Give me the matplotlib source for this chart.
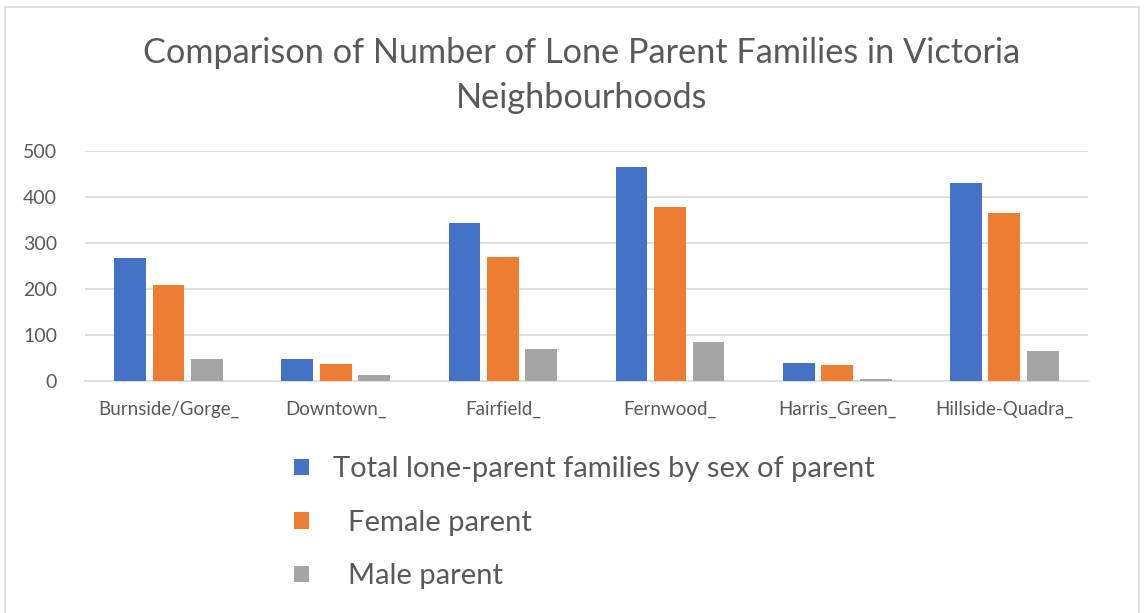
import matplotlib
matplotlib.use("Agg")
import matplotlib.pyplot as plt
import numpy as np
from matplotlib.patches import Rectangle

categories = ["Burnside/Gorge_", "Downtown_", "Fairfield_", "Fernwood_", "Harris_Green_", "Hillside-Quadra_"]
total = [267, 48, 345, 467, 40, 432]
female = [210, 36, 271, 380, 35, 367]
male = [48, 14, 70, 84, 5, 65]
series_names = ["Total lone-parent families by sex of parent", "  Female parent", "  Male parent"]
yticks = [0, 100, 200, 300, 400, 500]

colors = ["#4472C4", "#ED7D31", "#A5A5A5"]
txt = "#595959"
font = ["Lato", "DejaVu Sans"]

fig = plt.figure(figsize=(11.44, 6.13), dpi=100)
fig.patch.set_facecolor("white")
fig.add_artist(Rectangle((0.004, -0.01), 0.992, 0.998, transform=fig.transFigure,
                         fill=False, edgecolor="#D9D9D9", linewidth=1.2))

ax = fig.add_axes([0.0743, 0.3785, 0.8767, 0.3744])
x = np.arange(len(categories))
w = 0.19
step = 0.23
for i, (vals, c, name) in enumerate(zip([total, female, male], colors, series_names)):
    ax.bar(x + (i - 1) * step, vals, width=w, color=c, label=name, zorder=3)

ax.set_xlim(-0.5, len(categories) - 0.5)
ax.set_ylim(0, 500)
ax.set_yticks(yticks)
ax.set_yticklabels([str(v) for v in yticks], family=font, fontsize=14, color=txt)
ax.set_xticks(x)
ax.set_xticklabels(categories, family=font, fontsize=13.5, color=txt)
ax.tick_params(axis="both", length=0)
ax.tick_params(axis="y", pad=20)
ax.tick_params(axis="x", pad=14)
ax.grid(axis="y", color="#D9D9D9", linewidth=1.2, zorder=0)
for s in ["top", "right", "left"]:
    ax.spines[s].set_visible(False)
ax.spines["bottom"].set_color("#D9D9D9")
ax.spines["bottom"].set_linewidth(1.2)

fig.text(0.508, 0.913, "Comparison of Number of Lone Parent Families in Victoria",
         ha="center", va="center", family=font, fontsize=24.7, color=txt)
fig.text(0.508, 0.840, "Neighbourhoods",
         ha="center", va="center", family=font, fontsize=24.7, color=txt)

handles, labels = ax.get_legend_handles_labels()
leg = fig.legend(handles, labels, loc="upper left", bbox_to_anchor=(0.257, 0.256),
                 frameon=False, prop={"family": font, "size": 21},
                 borderpad=0, borderaxespad=0,
                 labelspacing=0.95, handlelength=0.52, handleheight=0.48, handletextpad=0.8)
for t in leg.get_texts():
    t.set_color(txt)

fig.savefig("out.png", dpi=100, facecolor="white")
